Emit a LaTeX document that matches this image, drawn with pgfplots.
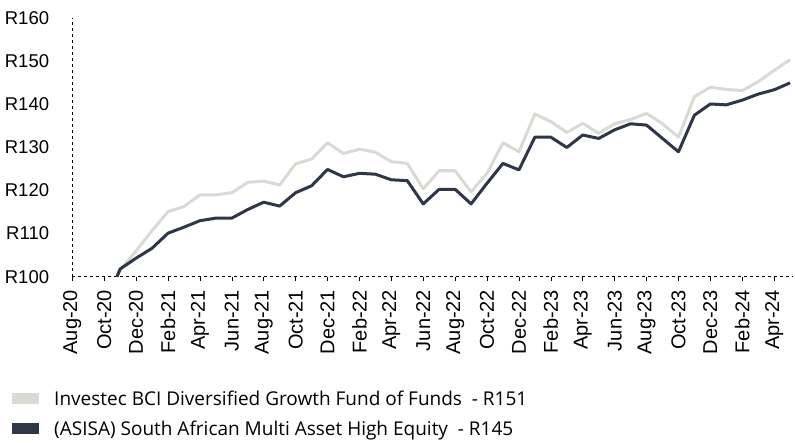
\documentclass[border=0pt]{standalone}
\usepackage{pgfplots}
\pgfplotsset{compat=1.18}
\usepackage{fontspec}
\setmainfont{Liberation Sans}
\newfontfamily\legfont{Open Sans}
\definecolor{lightser}{HTML}{DADAD5}
\definecolor{darkser}{HTML}{2F3648}
\pgfplotstableread{
x y
2.8 100
3 101.5
4 106.0
5 110.7
6 115.1
7 116.3
8 119.0
9 119.0
10 119.5
11 121.9
12 122.2
13 121.3
14 126.2
15 127.3
16 131.1
17 128.6
18 129.6
19 128.9
20 126.7
21 126.3
22 120.4
23 124.6
24 124.6
25 119.7
26 124.0
27 131.1
28 129.0
29 137.8
30 136.0
31 133.5
32 135.6
33 133.3
34 135.5
35 136.5
36 137.9
37 135.5
38 132.4
39 141.8
40 144.0
41 143.5
42 143.2
43 145.3
44 147.9
45 150.4
}\lightdata
\pgfplotstableread{
x y
2.8 100
3 101.8
4 104.3
5 106.6
6 110.1
7 111.5
8 113.0
9 113.6
10 113.6
11 115.6
12 117.3
13 116.4
14 119.5
15 121.1
16 124.9
17 123.2
18 124.0
19 123.8
20 122.5
21 122.3
22 116.9
23 120.3
24 120.3
25 116.9
26 121.7
27 126.3
28 124.8
29 132.4
30 132.4
31 130.0
32 132.9
33 132.1
34 134.1
35 135.5
36 135.2
37 132.1
38 129.0
39 137.5
40 140.1
41 139.9
42 141.0
43 142.4
44 143.4
45 145.0
}\darkdata
\begin{document}
\begin{tikzpicture}
\useasboundingbox (0pt,0pt) rectangle (795pt,443pt);
\begin{axis}[
  at={(72.3pt,166.3pt)}, anchor=south west,
  scale only axis, width=721pt, height=258.4pt,
  xmin=0, xmax=45.2, ymin=100, ymax=160,
  clip=false,
  axis x line*=bottom, axis y line*=left,
  axis line style={black, line width=0.6pt, dash pattern=on 3pt off 3pt},
  xtick={0,2,...,44},
  xticklabels={Aug-20,Oct-20,Dec-20,Feb-21,Apr-21,Jun-21,Aug-21,Oct-21,Dec-21,Feb-22,Apr-22,Jun-22,Aug-22,Oct-22,Dec-22,Feb-23,Apr-23,Jun-23,Aug-23,Oct-23,Dec-23,Feb-24,Apr-24},
  ytick={100,110,...,160},
  yticklabels={R100,R110,R120,R130,R140,R150,R160},
  tick align=outside,
  major tick length=4pt,
  xtick style={black, line width=0.6pt, solid},
  ytick style={draw=none},
  xticklabel style={rotate=90, anchor=east, inner sep=0pt, font=\fontsize{20}{20}\selectfont},
  xticklabel shift=9pt,
  yticklabel style={anchor=east, inner sep=0pt, font=\fontsize{18.5}{18.5}\selectfont},
  yticklabel shift=19pt,
  legend style={at={(-0.0836,-0.432)}, anchor=north west, draw=none, fill=none,
    font=\legfont\fontsize{19}{19}\selectfont, row sep=10pt, inner sep=0pt,
    /tikz/every even column/.append style={column sep=0pt}},
  legend cell align=left,
  legend image code/.code={\fill[#1, draw=none] (0pt,-5.5pt) rectangle (27pt,5.5pt);},
]
\addplot[lightser, line width=3pt, line join=round] table[x=x,y=y] {\lightdata};
\addlegendentry{\hspace{13pt}Investec BCI Diversified Growth Fund of Funds\ \ - R151}
\addplot[darkser, line width=3pt, line join=round] table[x=x,y=y] {\darkdata};
\addlegendentry{\hspace{13pt}(ASISA) South African Multi Asset High Equity\ \ - R145}
\end{axis}
\end{tikzpicture}
\end{document}
